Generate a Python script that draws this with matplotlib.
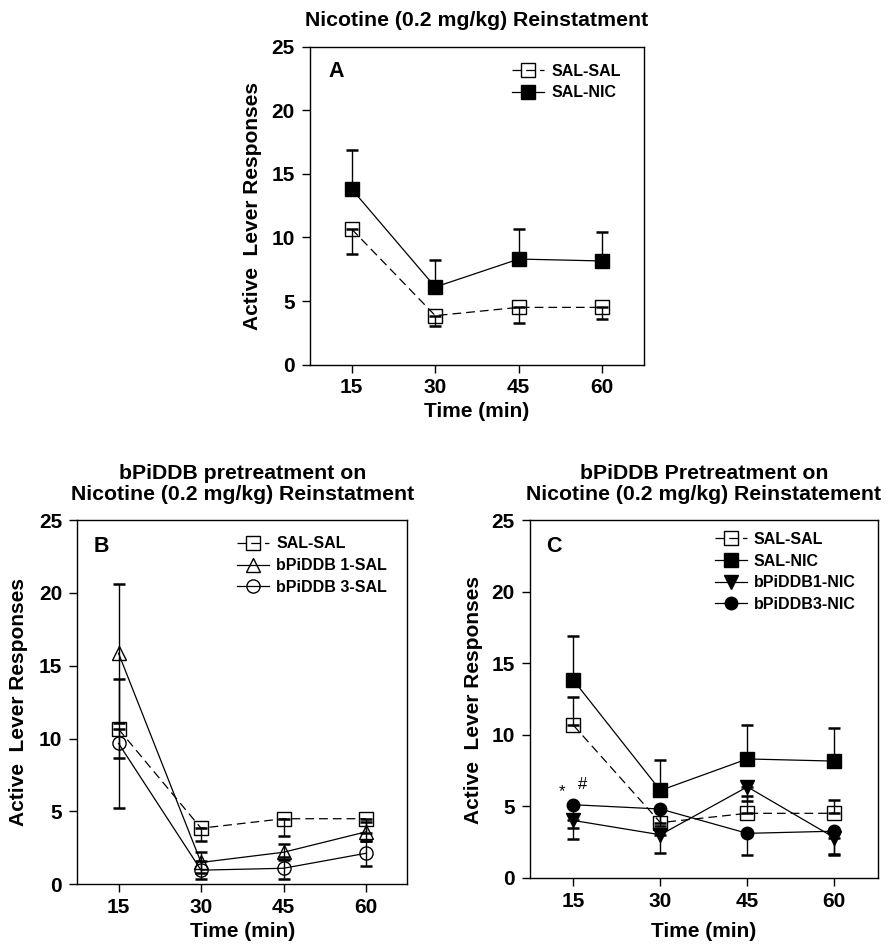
import numpy as np
import matplotlib
matplotlib.use("Agg")
import matplotlib.pyplot as plt

plt.rcParams['font.family'] = ['Liberation Sans', 'DejaVu Sans']
plt.rcParams['font.weight'] = 'bold'

# time points (min)
times = [15, 30, 45, 60]

# saline-saline and saline-nicotine groups (same in A and C)
sal_sal = [10.65, 3.85, 4.5, 4.5]
sal_sal_err = [1.95, 0.85, 1.2, 0.95]
sal_nic = [13.8, 6.1, 8.3, 8.15]
sal_nic_err = [3.1, 2.1, 2.4, 2.3]

# panel B groups
bp1_sal = [15.85, 1.5, 2.2, 3.6]
bp1_sal_err = [4.75, 0.7, 0.55, 0.65]
bp3_sal = [9.67, 0.97, 1.1, 2.13]
bp3_sal_err = [4.4, 0.6, 0.75, 0.85]

# panel C groups
bp1_nic = [4.0, 3.0, 6.35, 2.8]
bp1_nic_err = [1.3, 1.25, 1.0, 1.2]
bp3_nic = [5.1, 4.8, 3.1, 3.25]
bp3_nic_err = [1.6, 1.2, 1.5, 1.6]

W, H = 887, 952
fig = plt.figure(figsize=(W / 100, H / 100), dpi=100)

TICK_FS = 15
LABEL_FS = 15
TITLE_FS = 15.3
LETTER_FS = 15.5
LEG_FS = 11.5


def add_axes_px(left, right, top, bottom):
    return fig.add_axes([left / W, 1 - bottom / H, (right - left) / W, (bottom - top) / H])


def zero(n):
    return [0] * n


def series(ax, y, err, direction, marker, filled, dashed, label, ms=9.5):
    n = len(y)
    if direction == 'up':
        yerr = [zero(n), err]
    elif direction == 'down':
        yerr = [err, zero(n)]
    else:
        yerr = [err, err]
    ax.errorbar(times, y, yerr=yerr, fmt='none', ecolor='black', elinewidth=1.0,
                capsize=4.5, capthick=1.8, zorder=2)
    ls = (0, (7, 4)) if dashed else '-'
    ax.plot(times, y, color='black', lw=0.9, linestyle=ls, marker=marker, ms=ms,
            mfc='black' if filled else 'none', mec='black', mew=1.0, label=label, zorder=3)


def style_axes(ax):
    ax.set_xlim(7.5, 67.5)
    ax.set_ylim(0, 25)
    ax.set_xticks(times)
    ax.set_yticks([0, 5, 10, 15, 20, 25])
    ax.tick_params(axis='both', direction='out', length=6, width=1.0, labelsize=TICK_FS,
                   top=False, right=False)
    ax.tick_params(axis='x', pad=4)
    ax.tick_params(axis='y', pad=5)
    for lab in ax.get_xticklabels() + ax.get_yticklabels():
        lab.set_fontweight('bold')
    for sp in ax.spines.values():
        sp.set_linewidth(1.0)


def legend(ax, x, y):
    ax.legend(loc='upper left', bbox_to_anchor=(x, y), frameon=False,
              prop={'weight': 'bold', 'size': LEG_FS}, handlelength=2.0, handletextpad=0.45,
              labelspacing=0.42, borderpad=0, borderaxespad=0)


def label_text(x, y, s, **kw):
    fig.text(x / W, 1 - y / H, s, fontweight='bold', ha='center', va='center', **kw)


# ---------- Panel A ----------
axA = add_axes_px(310, 644, 46.7, 364.6)
series(axA, sal_sal, sal_sal_err, 'down', 's', False, True, 'SAL-SAL')
series(axA, sal_nic, sal_nic_err, 'up', 's', True, False, 'SAL-NIC')
style_axes(axA)
legend(axA, 0.605, 0.947)
label_text(336, 71.7, 'A', fontsize=LETTER_FS)
label_text(477, 20.7, 'Nicotine (0.2 mg/kg) Reinstatment', fontsize=TITLE_FS)
label_text(477, 411.7, 'Time (min)', fontsize=LABEL_FS)
label_text(253, 205.6, 'Active  Lever Responses', fontsize=LABEL_FS, rotation=90)

# ---------- Panel B ----------
axB = add_axes_px(77.3, 407.3, 520, 884.3)
series(axB, sal_sal, sal_sal_err, 'down', 's', False, True, 'SAL-SAL')
series(axB, bp1_sal, bp1_sal_err, 'both', '^', False, False, 'bPiDDB 1-SAL')
series(axB, bp3_sal, bp3_sal_err, 'both', 'o', False, False, 'bPiDDB 3-SAL')
style_axes(axB)
legend(axB, 0.485, 0.955)
label_text(101.7, 546, 'B', fontsize=LETTER_FS)
label_text(242.3, 484, 'bPiDDB pretreatment on\nNicotine (0.2 mg/kg) Reinstatment',
           fontsize=TITLE_FS, linespacing=1.15)
label_text(242.3, 931.7, 'Time (min)', fontsize=LABEL_FS)
label_text(18.3, 702, 'Active  Lever Responses', fontsize=LABEL_FS, rotation=90)

# ---------- Panel C ----------
axC = add_axes_px(530, 877.7, 520, 877.7)
series(axC, sal_sal, sal_sal_err, 'up', 's', False, True, 'SAL-SAL')
series(axC, sal_nic, sal_nic_err, 'up', 's', True, False, 'SAL-NIC')
series(axC, bp1_nic, bp1_nic_err, 'down', 'v', True, False, 'bPiDDB1-NIC')
series(axC, bp3_nic, bp3_nic_err, 'down', 'o', True, False, 'bPiDDB3-NIC', ms=9)
style_axes(axC)
legend(axC, 0.531, 0.967)
axC.text(13.1, 6.0, '*', fontsize=12, fontweight='normal', ha='center', va='center')
axC.text(16.55, 6.5, '#', fontsize=12, fontweight='normal', ha='center', va='center')
label_text(554.3, 546.7, 'C', fontsize=LETTER_FS)
label_text(703.8, 484, 'bPiDDB Pretreatment on\nNicotine (0.2 mg/kg) Reinstatement',
           fontsize=TITLE_FS, linespacing=1.15)
label_text(703.8, 931.7, 'Time (min)', fontsize=LABEL_FS)
label_text(473.3, 700, 'Active  Lever Responses', fontsize=LABEL_FS, rotation=90)

fig.savefig('out.png', dpi=100)
